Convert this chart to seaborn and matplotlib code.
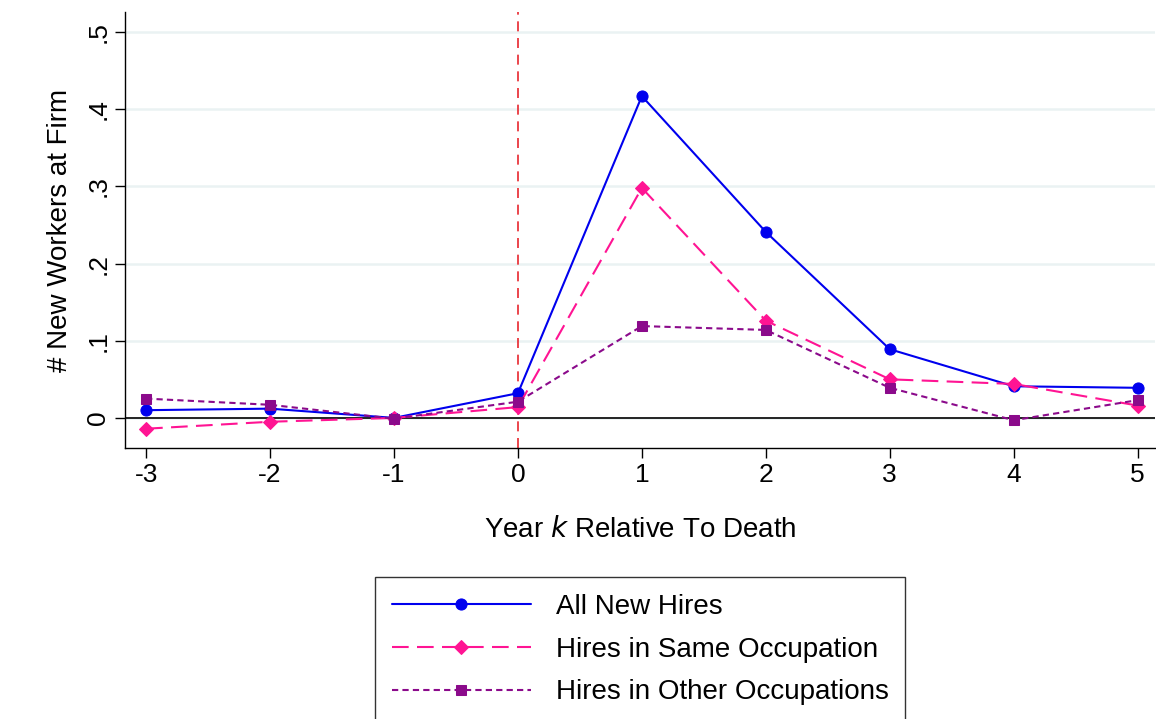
import matplotlib
matplotlib.use("Agg")
import matplotlib.pyplot as plt
import seaborn as sns
import pandas as pd

years = [-3, -2, -1, 0, 1, 2, 3, 4, 5]
all_hires = [0.010, 0.012, 0.000, 0.032, 0.417, 0.241, 0.089, 0.041, 0.039]
same_occ = [-0.014, -0.005, 0.000, 0.014, 0.298, 0.126, 0.050, 0.044, 0.016]
other_occ = [0.025, 0.017, -0.001, 0.021, 0.119, 0.114, 0.039, -0.003, 0.023]
yticks = [0, 0.1, 0.2, 0.3, 0.4, 0.5]
ytick_labels = ["0", ".1", ".2", ".3", ".4", ".5"]

sns.set_style("white")
plt.rcParams['font.family'] = ['Liberation Sans', 'DejaVu Sans']
plt.rcParams['text.color'] = 'black'
plt.rcParams['axes.labelcolor'] = 'black'
plt.rcParams['xtick.color'] = 'black'
plt.rcParams['ytick.color'] = 'black'

fig = plt.figure(figsize=(11.56, 7.19), dpi=100)
ax = fig.add_axes([125 / 1156, 1 - 448 / 719, 1030 / 1156, 436 / 719])

for v in yticks:
    ax.axhline(v, color="#eaf2f3", lw=1.8, zorder=0)
ax.axhline(0, color="black", lw=1.2, zorder=1)
ax.axvline(0, color="#e8262e", lw=1.2, ls=(0, (6, 4)), zorder=1)

series = [
    ("All New Hires", all_hires, "#0000ee", "o", "-", 8),
    ("Hires in Same Occupation", same_occ, "#ff1493", "D", (0, (8, 4)), 7),
    ("Hires in Other Occupations", other_occ, "#8b0a8b", "s", (0, (3, 2)), 7),
]
for name, vals, c, m, ls, ms in series:
    df = pd.DataFrame({"year": years, "value": vals})
    sns.lineplot(data=df, x="year", y="value", ax=ax, color=c, marker=m,
                 linestyle=ls, markersize=ms, markeredgecolor=c, lw=1.5,
                 label=name, zorder=3)

ax.set_xlim(-3.17, 5.14)
ax.set_ylim(-0.039, 0.526)
ax.set_xticks(years)
ax.set_xticklabels([str(y) for y in years], fontsize=19)
ax.set_yticks(yticks)
ax.set_yticklabels(ytick_labels, fontsize=19, rotation=90, va="center")
ax.tick_params(axis="both", length=7, width=1, color="black", direction="out",
               left=True, bottom=True)
for s in ["top", "right"]:
    ax.spines[s].set_visible(False)
for s in ["left", "bottom"]:
    ax.spines[s].set_color("black")
    ax.spines[s].set_linewidth(1)
ax.set_xlabel("Year $k$ Relative To Death", fontsize=20, labelpad=22)
ax.set_ylabel("# New Workers at Firm", fontsize=20, labelpad=10)

ax.legend(loc="upper center", bbox_to_anchor=(0.5, -0.265), fontsize=20,
          frameon=True, fancybox=False, edgecolor="black", handlelength=5,
          handletextpad=0.9, borderpad=0.6, labelspacing=0.6)
ax.get_legend().get_frame().set_linewidth(1)

fig.savefig("out.png", dpi=100)
